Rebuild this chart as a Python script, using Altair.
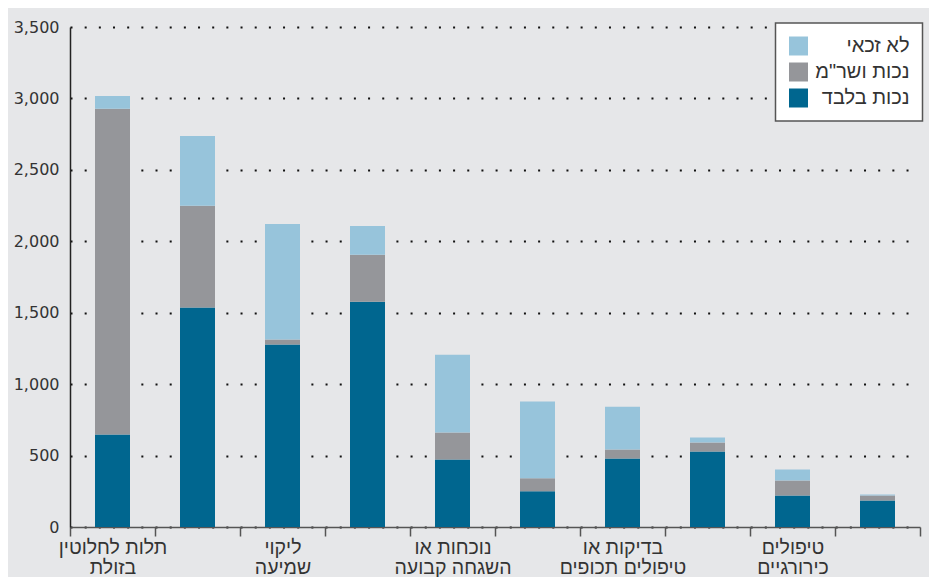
import altair as alt
import pandas as pd

# x categories (labels shown only on every other bar, as in the reference)
labels = ["תלות לחלוטין|בזולת", "", "ליקוי|שמיעה", "", "נוכחות או|השגחה קבועה",
          "", "בדיקות או|טיפולים תכופים", "", "טיפולים|כירורגיים", ""]
series = ["נכות בלבד", 'נכות ושר"מ', "לא זכאי"]
only_disability = [648, 1536, 1277, 1576, 473, 250, 480, 529, 221, 186]
disability_and_service = [2279, 712, 35, 330, 189, 91, 63, 63, 105, 35]
not_eligible = [90, 489, 809, 201, 544, 538, 299, 35, 77, 7]
colors = ["#00668f", "#95969a", "#97c4db"]

rows = []
for i in range(len(labels)):
    for s_idx, (s, vals) in enumerate(zip(series, [only_disability, disability_and_service, not_eligible])):
        rows.append({"idx": i, "series": s, "value": vals[i], "order": s_idx})
df = pd.DataFrame(rows)

label_arr = "[" + ",".join("'" + l + "'" for l in labels) + "]"
label_expr = f"isValid(datum.value) && datum.value >= 0 && datum.value < {len(labels)} ? split({label_arr}[datum.value], '|') : ''"

FONT_NUM = "DejaVu Sans"
FONT_HEB = "Liberation Sans"

chart = alt.Chart(df).mark_bar(width=35).encode(
    x=alt.X("idx:O", title=None,
            scale=alt.Scale(paddingInner=0, paddingOuter=0),
            axis=alt.Axis(labelExpr=label_expr, labelAngle=0, labelFont=FONT_HEB,
                          labelFontSize=19.5, labelColor="#333333", labelLineHeight=20.5,
                          labelPadding=17, tickBand="extent", tickSize=9, tickColor="#555555",
                          tickWidth=1.5, domainColor="#555555", domainWidth=1.5,
                          labelBaseline="alphabetic", labelAlign="center")),
    y=alt.Y("value:Q", title=None, stack="zero",
            scale=alt.Scale(domain=[0, 3500], nice=False),
            axis=alt.Axis(values=[0, 500, 1000, 1500, 2000, 2500, 3000, 3500],
                          format=",d", labelFont=FONT_NUM, labelFontSize=16,
                          labelColor="#333333", ticks=False, labelPadding=11,
                          domainColor="#222222", domainWidth=1.5,
                          grid=True, gridColor="#111111", gridDash=[2, 12.17],
                          gridWidth=2, gridOpacity=1)),
    color=alt.Color("series:N",
                    scale=alt.Scale(domain=series[::-1], range=colors[::-1]),
                    legend=alt.Legend(title=None, orient="none", legendX=705.5, legendY=-4,
                                      fillColor="white", strokeColor="#555555",
                                      padding=13, symbolType="square", symbolSize=361,
                                      symbolStrokeWidth=0, symbolOpacity=1,
                                      labelFont=FONT_HEB, labelFontSize=20,
                                      labelColor="#333333", labelAlign="right",
                                      rowPadding=6, labelOffset=101)),
    order=alt.Order("order:Q", sort="ascending"),
).properties(
    width=850, height=500,
    background="#e6e7e9",
    padding={"left": 62, "top": 19, "right": 9, "bottom": 50},
    autosize=alt.AutoSizeParams(type="none"),
).configure_view(stroke=None).configure_axisX(grid=False).configure_legend(
    strokeWidth=1.5
)

chart.save("out.html", embed_options={"renderer": "svg", "actions": False})
